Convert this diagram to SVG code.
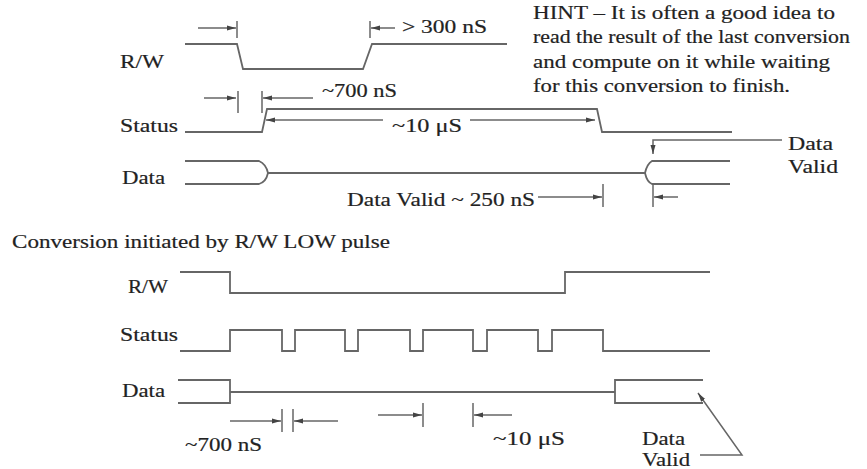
<svg xmlns="http://www.w3.org/2000/svg" width="867" height="469" viewBox="0 0 867 469">
<defs>
<style>
.w{fill:none;stroke:#666;stroke-width:1.8;stroke-linejoin:miter}
.d{fill:none;stroke:#666;stroke-width:1.5}
.t{font-family:"Liberation Serif","Times New Roman",serif;font-size:18px;fill:#222;stroke:#222;stroke-width:0.18}
</style>
<marker id="ah" viewBox="0 0 9 6" refX="9" refY="3" markerWidth="9" markerHeight="6" markerUnits="userSpaceOnUse" orient="auto">
<path d="M0,0.5 L9,3 L0,5.5 z" fill="#444"/>
</marker>
</defs>
<rect width="867" height="469" fill="#fff"/>

<!-- top section -->
<g id="rw1">
<text class="t" x="120" y="68" textLength="44" lengthAdjust="spacingAndGlyphs">R/W</text>
<polyline class="w" points="185,44 237,44 243,69 363,69 372,44 507,44"/>
</g>
<g id="status1">
<text class="t" x="120" y="132" textLength="58" lengthAdjust="spacingAndGlyphs">Status</text>
<polyline class="w" points="185,132 262,132 267,109 597,109 602,132 732,132"/>
</g>
<g id="data1">
<text class="t" x="122" y="184" textLength="43" lengthAdjust="spacingAndGlyphs">Data</text>
<path class="w" d="M185,161 H259 Q266,164 268,173 Q266,182 259,184 H185 M268,173 H645 M730,161 H652 Q647,164 645,173 Q647,182 652,184 H730"/>
</g>
<g id="hint">
<text class="t" x="533" y="19" textLength="302" lengthAdjust="spacingAndGlyphs">HINT – It is often a good idea to</text>
<text class="t" x="533" y="43" textLength="317" lengthAdjust="spacingAndGlyphs">read the result of the last conversion</text>
<text class="t" x="533" y="68" textLength="297" lengthAdjust="spacingAndGlyphs">and compute on it while waiting</text>
<text class="t" x="533" y="92" textLength="257" lengthAdjust="spacingAndGlyphs">for this conversion to finish.</text>
</g>
<g id="dv1label">
<text class="t" x="788" y="150" textLength="45" lengthAdjust="spacingAndGlyphs">Data</text>
<text class="t" x="788" y="173" textLength="50" lengthAdjust="spacingAndGlyphs">Valid</text>
</g>
<g id="labels1">
<text class="t" x="402" y="33" textLength="85" lengthAdjust="spacingAndGlyphs">&gt; 300 nS</text>
<text class="t" x="322" y="97" textLength="75" lengthAdjust="spacingAndGlyphs">~700 nS</text>
<text class="t" x="392" y="132" textLength="70" lengthAdjust="spacingAndGlyphs">~10 μS</text>
<text class="t" x="347" y="206" textLength="188" lengthAdjust="spacingAndGlyphs">Data Valid ~ 250 nS</text>
</g>

<!-- bottom section -->
<g id="title2">
<text class="t" x="12" y="248" textLength="378" lengthAdjust="spacingAndGlyphs">Conversion initiated by R/W LOW pulse</text>
</g>
<g id="rw2">
<text class="t" x="128" y="293" textLength="40" lengthAdjust="spacingAndGlyphs">R/W</text>
<polyline class="w" points="180,272 230,272 230,293 565,293 565,272 710,272"/>
</g>
<g id="status2">
<text class="t" x="120" y="341" textLength="58" lengthAdjust="spacingAndGlyphs">Status</text>
<polyline class="w" points="180,351 230,351 230,330 282,330 282,351 295,351 295,330 345,330 345,351 358,351 358,330 410,330 410,351 423,351 423,330 473,330 473,351 487,351 487,330 538,330 538,351 552,351 552,330 603,330 603,351 710,351"/>
</g>
<g id="data2">
<text class="t" x="122" y="397" textLength="43" lengthAdjust="spacingAndGlyphs">Data</text>
<path class="w" d="M178,380 H230 V403 H178 M230,392 H615 M703,380 H615 V403 H703"/>
</g>
<g id="labels2">
<text class="t" x="185" y="451" textLength="77" lengthAdjust="spacingAndGlyphs">~700 nS</text>
<text class="t" x="493" y="445" textLength="72" lengthAdjust="spacingAndGlyphs">~10 μS</text>
<text class="t" x="642" y="445" textLength="43" lengthAdjust="spacingAndGlyphs">Data</text>
<text class="t" x="642" y="466" textLength="48" lengthAdjust="spacingAndGlyphs">Valid</text>
</g>

<g id="connectors">
<line class="d" x1="198" y1="28" x2="236" y2="28" marker-end="url(#ah)"/>
<line class="d" x1="237" y1="21" x2="237" y2="38"/>
<line class="d" x1="370" y1="21" x2="370" y2="38"/>
<line class="d" x1="395" y1="28" x2="371" y2="28" marker-end="url(#ah)"/>
<line class="d" x1="204" y1="98" x2="236" y2="98" marker-end="url(#ah)"/>
<line class="d" x1="238" y1="91" x2="238" y2="113"/>
<line class="d" x1="262" y1="91" x2="262" y2="113"/>
<line class="d" x1="313" y1="98" x2="263" y2="98" marker-end="url(#ah)"/>
<line class="d" x1="383" y1="120" x2="266" y2="120" marker-end="url(#ah)"/>
<line class="d" x1="470" y1="120" x2="595" y2="120" marker-end="url(#ah)"/>
<line class="d" x1="538" y1="197" x2="602" y2="197" marker-end="url(#ah)"/>
<line class="d" x1="603" y1="184" x2="603" y2="207"/>
<line class="d" x1="653" y1="184" x2="653" y2="207"/>
<line class="d" x1="678" y1="197" x2="654" y2="197" marker-end="url(#ah)"/>
<polyline class="d" points="782,140 653,140 653,154" marker-end="url(#ah)"/>
<line class="d" x1="230" y1="421" x2="281" y2="421" marker-end="url(#ah)"/>
<line class="d" x1="282" y1="409" x2="282" y2="432"/>
<line class="d" x1="293" y1="409" x2="293" y2="432"/>
<line class="d" x1="338" y1="421" x2="294" y2="421" marker-end="url(#ah)"/>
<line class="d" x1="378" y1="415" x2="422" y2="415" marker-end="url(#ah)"/>
<line class="d" x1="423" y1="403" x2="423" y2="427"/>
<line class="d" x1="473" y1="403" x2="473" y2="427"/>
<line class="d" x1="512" y1="415" x2="474" y2="415" marker-end="url(#ah)"/>
<polyline class="d" points="700,455 742,455 698,393" marker-end="url(#ah)"/>
</g>
</svg>
